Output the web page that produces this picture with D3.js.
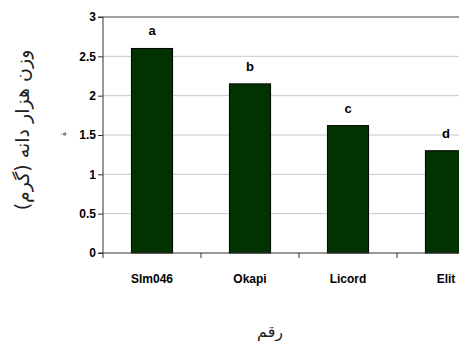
<!DOCTYPE html>
<html><head><meta charset="utf-8">
<script src="https://cdn.jsdelivr.net/npm/d3@7"></script>
<style>body{margin:0;background:#fff}svg{display:block}</style>
</head><body>
<script>
const categories = ["Slm046", "Okapi", "Licord", "Elit"];
const values = [2.6, 2.15, 1.62, 1.3];
const letters = ["a", "b", "c", "d"];
const yTicks = [0, 0.5, 1, 1.5, 2, 2.5, 3];
const yTickLabels = ["0", "0.5", "1", "1.5", "2", "2.5", "3"];
const yTitle = "وزن هزار دانه (گرم)";
const xTitle = "رقم";

(function () {
const W = 459, H = 345;
const svg = d3.select("body").append("svg").attr("width", W).attr("height", H);
const pLeft = 103, pTop = 17, pBottom = 253, step = 98;
const x = d3.scaleBand().domain(categories).range([pLeft, pLeft + step * categories.length])
  .paddingInner(0.58).paddingOuter(0.29);
const y = d3.scaleLinear().domain([0, 3]).range([pBottom, pTop]);
const font = "Arial, 'Liberation Sans', sans-serif";

// gridlines
svg.append("g").selectAll("line").data(yTicks.filter(d => d > 0 && d < 3)).join("line")
  .attr("x1", pLeft).attr("x2", W).attr("y1", d => y(d)).attr("y2", d => y(d))
  .attr("stroke", "#c8c8c8").attr("stroke-width", 1);
svg.append("line").attr("x1", pLeft).attr("x2", W).attr("y1", y(3)).attr("y2", y(3))
  .attr("stroke", "#808080").attr("stroke-width", 1.5);

// bars
svg.append("g").selectAll("rect").data(categories).join("rect")
  .attr("x", d => x(d)).attr("width", x.bandwidth())
  .attr("y", (d, i) => y(values[i])).attr("height", (d, i) => pBottom - y(values[i]))
  .attr("fill", "#003300").attr("stroke", "#000").attr("stroke-width", 1);

// letters
svg.append("g").selectAll("text").data(categories).join("text")
  .attr("x", d => x(d) + x.bandwidth() / 2).attr("y", (d, i) => y(values[i]) - 13)
  .attr("text-anchor", "middle").attr("font-family", font).attr("font-weight", "bold")
  .attr("font-size", 13).text((d, i) => letters[i]);

// y axis
const yAxis = d3.axisLeft(y).tickValues(yTicks).tickSize(5).tickFormat((d, i) => yTickLabels[i]);
const gy = svg.append("g").attr("transform", `translate(${pLeft},0)`).call(yAxis);
gy.select(".domain").attr("stroke", "#333").attr("d", `M-5,${pTop}H0V${pBottom}`);
gy.selectAll(".tick line").attr("stroke", "#333");
gy.selectAll("text").attr("font-family", font).attr("font-weight", "bold").attr("font-size", 12)
  .attr("fill", "#000").attr("x", -7);

// x axis
const gx = svg.append("g").attr("transform", `translate(0,${pBottom})`);
gx.append("line").attr("x1", pLeft - 5).attr("x2", W).attr("y1", 0).attr("y2", 0).attr("stroke", "#333");
const bounds = d3.range(categories.length + 1).map(i => pLeft + i * x.step());
gx.selectAll("line.t").data(bounds).join("line").attr("class", "t")
  .attr("x1", d => d).attr("x2", d => d).attr("y1", 0).attr("y2", 5).attr("stroke", "#333");
gx.selectAll("text").data(categories).join("text")
  .attr("x", d => x(d) + x.bandwidth() / 2).attr("y", 30)
  .attr("text-anchor", "middle").attr("font-family", font).attr("font-weight", "bold")
  .attr("font-size", 12).text(d => d);

// titles
svg.append("text").attr("transform", `translate(29,130) rotate(-90)`)
  .attr("text-anchor", "middle").attr("font-family", "'DejaVu Sans', sans-serif")
  .attr("font-size", 19).attr("fill", "#222").attr("direction", "rtl").text(yTitle);
svg.append("text").attr("transform", `translate(66,134) rotate(-90)`)
  .attr("text-anchor", "middle").attr("font-family", "'DejaVu Sans', sans-serif")
  .attr("font-size", 8).text("ة");
svg.append("text").attr("x", 270).attr("y", 337)
  .attr("text-anchor", "middle").attr("font-family", "'DejaVu Sans', sans-serif")
  .attr("font-size", 16).attr("fill", "#222").attr("direction", "rtl").text(xTitle);
})();
</script>
</body></html>
